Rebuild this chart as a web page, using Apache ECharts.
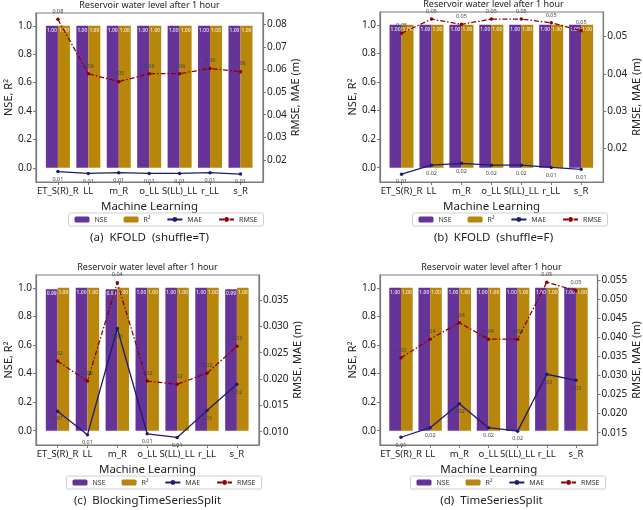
<!DOCTYPE html>
<html>
<head>
<meta charset="utf-8">
<script src="https://cdn.jsdelivr.net/npm/echarts@6/dist/echarts.min.js"></script>
<style>
  html, body { margin: 0; padding: 0; background: #fff; }
  #chart { width: 643px; height: 510px; }
</style>
</head>
<body>
<div id="chart"></div>
<script>
// 모델 이름
const categories = ['ET_S(R)_R', 'LL', 'm_R', 'o_LL', 'S(LL)_LL', 'r_LL', 's_R'];

// (a) KFOLD shuffle=T
const nseA = [1.00, 1.00, 1.00, 1.00, 1.00, 1.00, 1.00];
const r2A = [1.00, 1.00, 1.00, 1.00, 1.00, 1.00, 1.00];
const rmseA = [0.0821, 0.0581, 0.0546, 0.0581, 0.0581, 0.0604, 0.0590];
const maeA = [0.0149, 0.0141, 0.0144, 0.0141, 0.0141, 0.0144, 0.0138];

// (b) KFOLD shuffle=F
const nseB = [1.00, 1.00, 1.00, 1.00, 1.00, 1.00, 1.00];
const r2B = [1.00, 1.00, 1.00, 1.00, 1.00, 1.00, 1.00];
const rmseB = [0.0509, 0.0547, 0.0533, 0.0547, 0.0547, 0.0537, 0.0516];
const maeB = [0.0131, 0.0155, 0.0160, 0.0155, 0.0155, 0.0149, 0.0144];

// (c) BlockingTimeSeriesSplit
const nseC = [0.99, 1.00, 0.99, 1.00, 1.00, 1.00, 0.99];
const r2C = [1.00, 1.00, 1.00, 1.00, 1.00, 1.00, 1.00];
const rmseC = [0.0234, 0.0196, 0.0383, 0.0196, 0.0190, 0.0211, 0.0262];
const maeC = [0.0139, 0.0094, 0.0296, 0.0096, 0.0089, 0.0140, 0.0190];

// (d) TimeSeriesSplit
const nseD = [1.00, 1.00, 1.00, 1.00, 1.00, 1.00, 1.00];
const r2D = [1.00, 1.00, 1.00, 1.00, 1.00, 1.00, 1.00];
const rmseD = [0.0346, 0.0395, 0.0438, 0.0395, 0.0395, 0.0544, 0.0522];
const maeD = [0.0138, 0.0163, 0.0226, 0.0163, 0.0154, 0.0303, 0.0287];

// 눈금
const leftTicks = [0.0, 0.2, 0.4, 0.6, 0.8, 1.0];
const rightTicksA = [0.02, 0.03, 0.04, 0.05, 0.06, 0.07, 0.08];
const rightTicksB = [0.02, 0.03, 0.04, 0.05];
const rightTicksC = [0.010, 0.015, 0.020, 0.025, 0.030, 0.035];
const rightTicksD = [0.015, 0.020, 0.025, 0.030, 0.035, 0.040, 0.045, 0.050, 0.055];

const captions = ['(a)  KFOLD  (shuffle=T)', '(b)  KFOLD  (shuffle=F)', '(c)  BlockingTimeSeriesSplit', '(d)  TimeSeriesSplit'];
const titleText = 'Reservoir water level after 1 hour';

const FONT = 'Noto Sans';
const PURPLE = '#663399';
const GOLD = '#b8860b';
const NAVY = '#1c1c72';
const DARKRED = '#8b0000';
const SPINE = '#7a7a7a';

const panels = [
    { nse: nseA, r2: r2A, rmse: rmseA, mae: maeA, ticks: rightTicksA, rmin: 0.0103, rmax: 0.0849, dec: 2,
      grid: { left: 36, top: 13, width: 227, height: 169 }, barW: 12 },
    { nse: nseB, r2: r2B, rmse: rmseB, mae: maeB, ticks: rightTicksB, rmin: 0.0110, rmax: 0.0566, dec: 2,
      grid: { left: 380, top: 12, width: 227, height: 170 }, barW: 12 },
    { nse: nseC, r2: r2C, rmse: rmseC, mae: maeC, ticks: rightTicksC, rmin: 0.00747, rmax: 0.03975, dec: 3,
      grid: { left: 36, top: 275, width: 223, height: 170 }, barW: 11.7 },
    { nse: nseD, r2: r2D, rmse: rmseD, mae: maeD, ticks: rightTicksD, rmin: 0.01177, rmax: 0.0563, dec: 3,
      grid: { left: 380, top: 275, width: 223, height: 170 }, barW: 11.7 }
];

const grid = [], xAxis = [], yAxis = [], series = [], legend = [], graphic = [];

function pairs(arr) {
    return arr.map((v, i) => [i, v]);
}

panels.forEach((p, k) => {
    grid.push(Object.assign({ show: true, borderColor: SPINE, borderWidth: 1.2, backgroundColor: 'transparent' }, p.grid));

    xAxis.push({
        type: 'value', gridIndex: k, min: -0.72, max: 6.74,
        name: 'Machine Learning', nameLocation: 'middle', nameGap: 19,
        nameTextStyle: { fontFamily: FONT, fontSize: 11.5, color: '#222' },
        axisLine: { show: true, onZero: false, lineStyle: { color: SPINE, width: 1.2 } },
        axisTick: { show: true, customValues: [0, 1, 2, 3, 4, 5, 6], length: 3, lineStyle: { color: SPINE } },
        axisLabel: {
            customValues: [0, 1, 2, 3, 4, 5, 6], margin: 4,
            fontFamily: FONT, fontSize: 9.5, color: '#222',
            formatter: v => categories[Math.round(v)]
        },
        splitLine: { show: false }
    });

    yAxis.push({
        type: 'value', gridIndex: k, min: -0.1, max: 1.09, position: 'left',
        name: 'NSE, R²', nameLocation: 'middle', nameGap: 21, nameRotate: 90,
        nameTextStyle: { fontFamily: FONT, fontSize: 11, color: '#222' },
        axisLine: { show: true, onZero: false, lineStyle: { color: SPINE, width: 1.2 } },
        axisTick: { show: true, customValues: leftTicks, length: 3, lineStyle: { color: SPINE } },
        axisLabel: { customValues: leftTicks, margin: 4, fontFamily: FONT, fontSize: 10, color: '#222',
                     formatter: v => v.toFixed(1) },
        splitLine: { show: false }
    });
    yAxis.push({
        type: 'value', gridIndex: k, min: p.rmin, max: p.rmax, position: 'right',
        name: 'RMSE, MAE (m)', nameLocation: 'middle', nameGap: p.dec === 2 ? 24 : 30, nameRotate: 90,
        nameTextStyle: { fontFamily: FONT, fontSize: 11, color: '#222' },
        axisLine: { show: true, onZero: false, lineStyle: { color: SPINE, width: 1.2 } },
        axisTick: { show: true, customValues: p.ticks, length: 3, lineStyle: { color: SPINE } },
        axisLabel: { customValues: p.ticks, margin: 4, fontFamily: FONT, fontSize: 10, color: '#222',
                     formatter: v => v.toFixed(p.dec) },
        splitLine: { show: false }
    });

    const barLabel = {
        show: true, position: 'insideTop', distance: 2, color: '#fff',
        fontFamily: FONT, fontSize: 5, formatter: d => d.value[1].toFixed(2)
    };
    series.push({
        name: 'NSE', type: 'bar', xAxisIndex: k, yAxisIndex: 2 * k, data: pairs(p.nse),
        barWidth: p.barW, barGap: '0%', itemStyle: { color: PURPLE }, label: barLabel, z: 2
    });
    series.push({
        name: 'R²', type: 'bar', xAxisIndex: k, yAxisIndex: 2 * k, data: pairs(p.r2),
        barWidth: p.barW, barGap: '0%', itemStyle: { color: GOLD }, label: barLabel, z: 2
    });
    series.push({
        name: 'MAE', type: 'line', xAxisIndex: k, yAxisIndex: 2 * k + 1, data: pairs(p.mae),
        symbol: 'circle', symbolSize: 3.5, itemStyle: { color: NAVY },
        lineStyle: { color: NAVY, width: 1.3 },
        label: { show: true, position: 'bottom', distance: 3, fontFamily: FONT, fontSize: 5.5, color: '#444',
                 formatter: d => d.value[1].toFixed(2) },
        z: 5
    });
    series.push({
        name: 'RMSE', type: 'line', xAxisIndex: k, yAxisIndex: 2 * k + 1, data: pairs(p.rmse),
        symbol: 'circle', symbolSize: 3.5, itemStyle: { color: DARKRED },
        lineStyle: { color: DARKRED, width: 1.3, type: [5, 2, 1.5, 2] },
        label: { show: true, position: 'top', distance: 3, fontFamily: FONT, fontSize: 5.5, color: '#444',
                 formatter: d => d.value[1].toFixed(2) },
        z: 5
    });

    const cx = p.grid.left + p.grid.width / 2;
    const base = p.grid.top + p.grid.height;
    legend.push({
        data: ['NSE', 'R²', 'MAE', 'RMSE'],
        left: cx - 81, top: base + 31,
        itemWidth: 15, itemHeight: 6, itemGap: 16,
        padding: [3, 6], borderColor: '#d0d0d0', borderWidth: 1, borderRadius: 2,
        textStyle: { fontFamily: FONT, fontSize: 7, color: '#333' },
        selectedMode: false
    });

    graphic.push({
        type: 'text', x: cx, y: p.grid.top - 8,
        style: { text: titleText, fontFamily: FONT, fontSize: 9, fill: '#222', textAlign: 'center', textVerticalAlign: 'middle' }
    });
    graphic.push({
        type: 'text', x: cx, y: base + 56,
        style: { text: captions[k], fontFamily: FONT, fontSize: 11.5, fill: '#222', textAlign: 'center', textVerticalAlign: 'middle' }
    });
});

const chart = echarts.init(document.getElementById('chart'), null, { renderer: 'canvas' });
chart.setOption({
    animation: false,
    backgroundColor: '#fff',
    grid: grid,
    xAxis: xAxis,
    yAxis: yAxis,
    legend: legend,
    graphic: graphic,
    series: series
});
</script>
</body>
</html>
